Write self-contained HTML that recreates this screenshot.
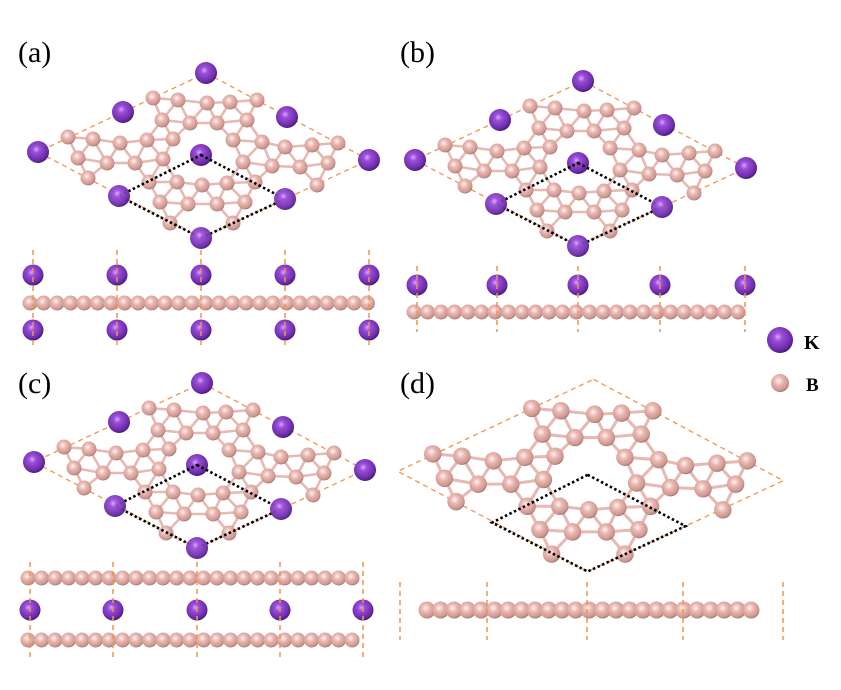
<!DOCTYPE html>
<html><head><meta charset="utf-8"><style>
html,body{margin:0;padding:0;background:#fff;}
svg{display:block;}
text{font-family:"Liberation Serif",serif;fill:#000;}
</style></head><body>
<svg id="s" width="841" height="690" viewBox="0 0 841 690" xmlns="http://www.w3.org/2000/svg">
<defs>
<radialGradient id="gk" cx="0.42" cy="0.38" r="0.65">
<stop offset="0" stop-color="#d9a8ff"/><stop offset="0.25" stop-color="#9a4fd8"/><stop offset="0.8" stop-color="#6a2aa8"/><stop offset="1" stop-color="#3e1468"/></radialGradient>
<radialGradient id="gb" cx="0.42" cy="0.38" r="0.65">
<stop offset="0" stop-color="#fff4f2"/><stop offset="0.35" stop-color="#ecbab3"/><stop offset="0.85" stop-color="#c9948d"/><stop offset="1" stop-color="#8f6360"/></radialGradient>
</defs>
<text x="18" y="62" font-size="30">(a)</text>
<text x="400" y="62" font-size="30">(b)</text>
<text x="18" y="393" font-size="30">(c)</text>
<text x="400" y="393" font-size="30">(d)</text>
<circle cx="780" cy="340" r="13" fill="url(#gk)"/>
<text x="804" y="349" font-size="20" font-weight="bold">K</text>
<circle cx="780" cy="383" r="9" fill="url(#gb)"/>
<text x="806" y="391" font-size="19" font-weight="bold">B</text>
</svg>
<script>
var S=document.getElementById('s'),NS='http://www.w3.org/2000/svg';
function el(n,a,p){var e=document.createElementNS(NS,n);for(var k in a)e.setAttribute(k,a[k]);(p||S).appendChild(e);return e;}
var B=[[153,98],[178,100],[207,103],[230,102],[257,100],[162,120],[190,123],[217,123],[247,120],
[68,137],[93,139],[120,143],[147,140],[173,139],[78,158],[107,163],[135,163],[163,159],[88,178],[149,182],
[233,140],[262,142],[285,147],[312,145],[338,143],[243,162],[272,166],[300,167],[328,163],[255,182],[317,185],
[177,182],[202,185],[227,183],[160,202],[188,204],[217,204],[245,202],[170,223],[233,223]];
var K=[[206,73],[123,112],[287,117],[38,152],[369,160],[201,155]];
var KB=[[119,196],[285,199],[201,238]];
function drawTop(tx,ty,sc,withK){
 var g=el('g',{transform:'translate('+tx+','+ty+') scale('+sc+') translate(-203,-156)'});
 el('polygon',{points:'206,73 369,160 201,238 38,152',fill:'none',stroke:'#f4934a','stroke-width':1.3/sc,'stroke-dasharray':(5/sc)+','+(4/sc)},g);
 for(var i=0;i<B.length;i++)for(var j=i+1;j<B.length;j++){var dx=B[i][0]-B[j][0],dy=B[i][1]-B[j][1];if(dx*dx+dy*dy<34*34)el('line',{x1:B[i][0],y1:B[i][1],x2:B[j][0],y2:B[j][1],stroke:'#e8b8b2','stroke-width':2.6},g);}
 B.forEach(function(b){el('circle',{cx:b[0],cy:b[1],r:7.5,fill:'url(#gb)'},g);});
 if(withK){K.forEach(function(k){el('circle',{cx:k[0],cy:k[1],r:11,fill:'url(#gk)'},g);});}
 el('polygon',{points:'201,155 285,199 201,238 119,196',fill:'none',stroke:'#000','stroke-width':2.6/sc,'stroke-dasharray':(2.5/sc)+','+(2.5/sc)},g);
 if(withK){KB.forEach(function(k){el('circle',{cx:k[0],cy:k[1],r:11,fill:'url(#gk)',opacity:0.95},g);});}
}
drawTop(203,156,1,true);
drawTop(580,164,1,true);
drawTop(199,466,1,true);
drawTop(590,476,1.165,false);
function dash(x,y1,y2){el('line',{x1:x,y1:y1,x2:x,y2:y2,stroke:'#f4934a','stroke-width':1.5,'stroke-dasharray':'5,4'});}
function brow(x1,x2,y,r){for(var x=x1;x<=x2;x+=13.5){el('circle',{cx:x,cy:y,r:r,fill:'url(#gb)'});}}
function krow(xs,y){xs.forEach(function(x){el('circle',{cx:x,cy:y,r:10.5,fill:'url(#gk)'});});}
var xa=[33,117,201,285,369];
brow(30,372,303,7.5); krow(xa,275); krow(xa,330); xa.forEach(function(x){dash(x,250,347);});
var xb=[417,497,578,660,745];
brow(414,748,312,7.5); krow(xb,285); xb.forEach(function(x){dash(x,266,332);});
var xc=[30,113,197,280,363];
brow(28,362,578,7.5); brow(28,362,640,7.5); krow(xc,610); xc.forEach(function(x){dash(x,562,658);});
brow(427,752,610,8.5); [400,487,587,683,783].forEach(function(x){dash(x,582,640);});
</script>
</body></html>
